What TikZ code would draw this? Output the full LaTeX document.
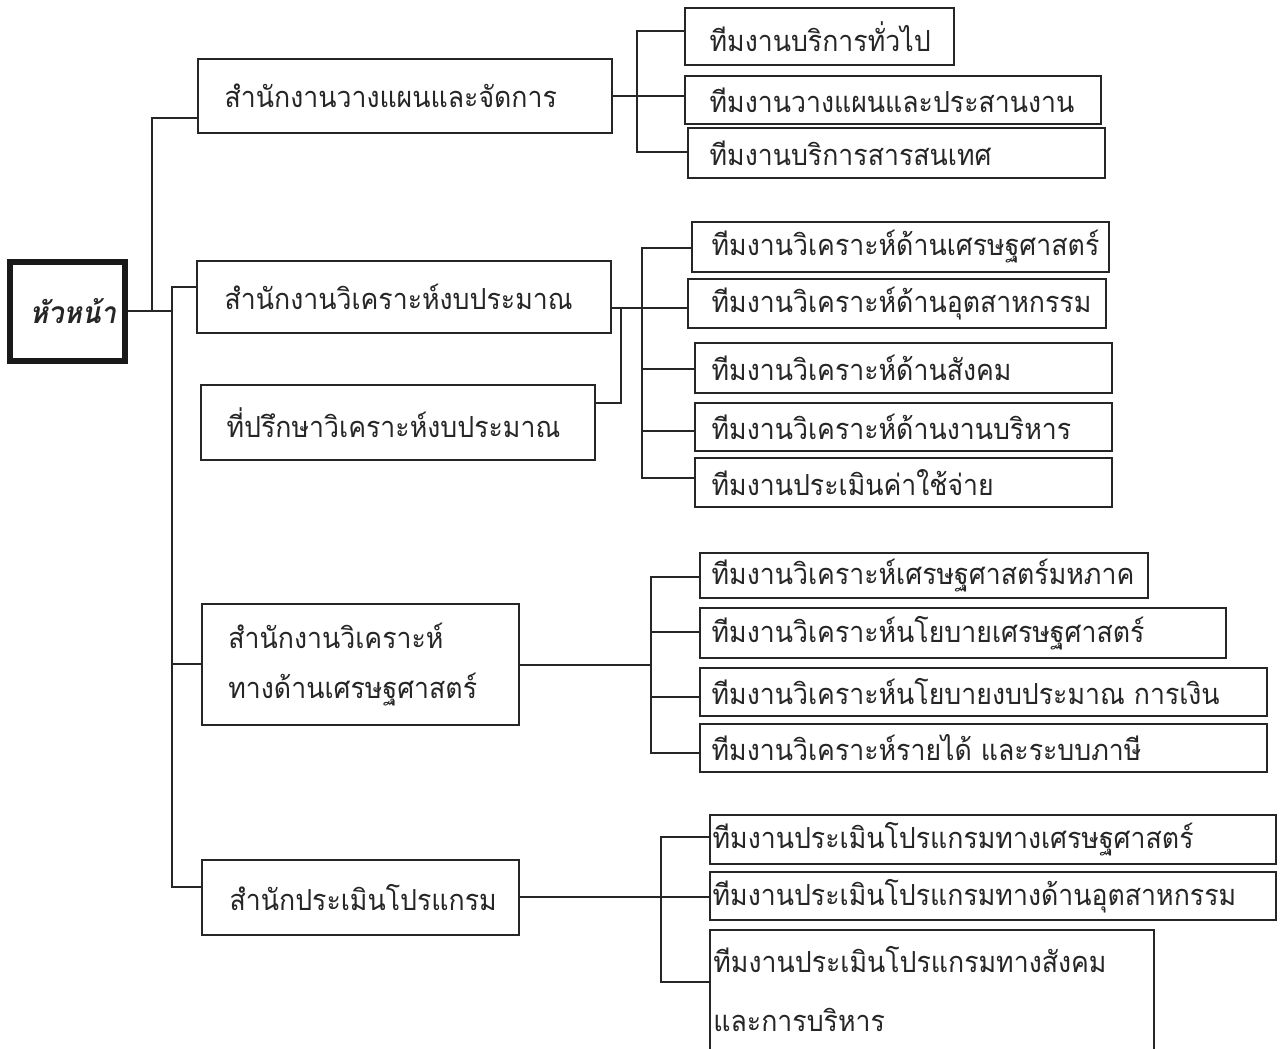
\documentclass[tikz,border=0pt]{standalone}
\usepackage{fontspec}
\newfontfamily\thaifont[Script=Thai, FakeStretch=0.92]{Loma}
\usetikzlibrary{calc}

% one drawing unit = 0.5pt, y grows downwards
\def\pxu{0.5pt}

\tikzset{
  box/.style={draw=black!85, line width=0.8pt, rectangle, inner sep=0pt},
  lbl/.style={font=\thaifont\fontsize{14.5}{18}\selectfont, inner sep=0pt, anchor=west, text=black!85},
  link/.style={draw=black!85, line width=0.8pt},
}

% \orgbox{name}{x1}{y1}{x2}{y2}{left padding}{text}
\newcommand\orgbox[7]{%
  \node[box, minimum width={(#4-#2)*\pxu}, minimum height={(#5-#3)*\pxu}]
    (#1) at ({(#2+#4)/2},{(#3+#5)/2}) {};
  \node[lbl] (#1-t) at ([xshift=#6*\pxu]#1.west) {#7};
}

\begin{document}
\begin{tikzpicture}[x=0.5pt, y=-0.5pt]
\useasboundingbox (0,0) rectangle (1285,1049);
\clip (0,0) rectangle (1285,1049);
\fill[white] (0,0) rectangle (1285,1049);

% head of the organisation
\node[draw=black!90, line width=3pt, minimum width={115*\pxu}, minimum height={99*\pxu},
      inner sep=0pt] (head) at (67.5,311) {};
\node[lbl, anchor=center, font=\thaifont\bfseries\itshape\fontsize{15}{18}\selectfont]
  (head-t) at (73,311) {หัวหน้า};

% offices
\orgbox{b1}{198}{59}{612}{133}{27}{สำนักงานวางแผนและจัดการ}
\orgbox{b2}{197}{261}{611}{333}{28}{สำนักงานวิเคราะห์งบประมาณ}
\orgbox{b3}{201}{385}{595}{460}{26}{ที่ปรึกษาวิเคราะห์งบประมาณ}
\node[box, minimum width={317*\pxu}, minimum height={121*\pxu}] (b4) at (360.5,664.5) {};
\node[lbl] (b4-t1) at (228,636) {สำนักงานวิเคราะห์};
\node[lbl] (b4-t2) at (228,690) {ทางด้านเศรษฐศาสตร์};
\orgbox{b5}{202}{860}{519}{935}{28}{สำนักประเมินโปรแกรม}

% teams of the planning office
\orgbox{c1}{685}{8}{954}{65}{25}{ทีมงานบริการทั่วไป}
\orgbox{c2}{685}{76}{1101}{124}{25}{ทีมงานวางแผนและประสานงาน}
\orgbox{c3}{688}{128}{1105}{178}{22}{ทีมงานบริการสารสนเทศ}

% teams of the budget office
\orgbox{d1}{692}{222}{1109}{272}{20}{ทีมงานวิเคราะห์ด้านเศรษฐศาสตร์}
\orgbox{d2}{688}{279}{1106}{328}{24}{ทีมงานวิเคราะห์ด้านอุตสาหกรรม}
\orgbox{d3}{695}{343}{1112}{393}{17}{ทีมงานวิเคราะห์ด้านสังคม}
\orgbox{d4}{695}{403}{1112}{451}{17}{ทีมงานวิเคราะห์ด้านงานบริหาร}
\orgbox{d5}{695}{458}{1112}{507}{17}{ทีมงานประเมินค่าใช้จ่าย}

% teams of the economics office
\orgbox{e1}{700}{553}{1148}{598}{12}{ทีมงานวิเคราะห์เศรษฐศาสตร์มหภาค}
\orgbox{e2}{700}{608}{1226}{658}{12}{ทีมงานวิเคราะห์นโยบายเศรษฐศาสตร์}
\orgbox{e3}{700}{668}{1267}{716}{12}{ทีมงานวิเคราะห์นโยบายงบประมาณ การเงิน}
\orgbox{e4}{700}{724}{1267}{772}{12}{ทีมงานวิเคราะห์รายได้ และระบบภาษี}

% teams of the programme evaluation office
\orgbox{f1}{710}{815}{1276}{864}{3}{ทีมงานประเมินโปรแกรมทางเศรษฐศาสตร์}
\orgbox{f2}{710}{872}{1276}{920}{3}{ทีมงานประเมินโปรแกรมทางด้านอุตสาหกรรม}
\node[box, minimum width={444*\pxu}, minimum height={140*\pxu}] (f3) at (932,1000) {};
\node[lbl] (f3-t1) at (713,960) {ทีมงานประเมินโปรแกรมทางสังคม};
\node[lbl] (f3-t2) at (713,1020) {และการบริหาร};

% junction points on the vertical bus lines
\coordinate (j1) at (152,311);
\coordinate (j2) at (172,311);
\coordinate (j3) at (637,96);
\coordinate (j4) at (621,308);
\coordinate (j6) at (651,665);

% head to offices
\draw[link] (head.east) -- (j2);
\draw[link] (j1) |- (b1.west |- 0,118);
\draw[link] (b2.west |- 0,287) -- (172,287) -- (172,887) -- (b5.west |- 0,887);
\draw[link] (172,664) -- (b4.west |- 0,664);

% planning office to its teams
\draw[link] (b1.east |- 0,96) -- (c2.west |- 0,96);
\draw[link] (c1.west |- 0,31) -| (j3) |- (c3.west |- 0,152);

% budget office and advisor to their teams
\draw[link] (b2.east |- 0,308) -- (d2.west |- 0,308);
\draw[link] (j4) |- (b3.east |- 0,403);
\draw[link] (d1.west |- 0,248) -| (642,478) -- (d5.west |- 0,478);
\draw[link] (642,369) -- (d3.west |- 0,369);
\draw[link] (642,431) -- (d4.west |- 0,431);

% economics office to its teams
\draw[link] (b4.east |- 0,665) -- (j6);
\draw[link] (e1.west |- 0,577) -| (651,753) -- (e4.west |- 0,753);
\draw[link] (651,632) -- (e2.west |- 0,632);
\draw[link] (651,697) -- (e3.west |- 0,697);

% programme evaluation office to its teams
\draw[link] (b5.east |- 0,897) -- (f2.west |- 0,897);
\draw[link] (f1.west |- 0,837) -| (661,982) -- (f3.west |- 0,982);
\end{tikzpicture}
\end{document}
